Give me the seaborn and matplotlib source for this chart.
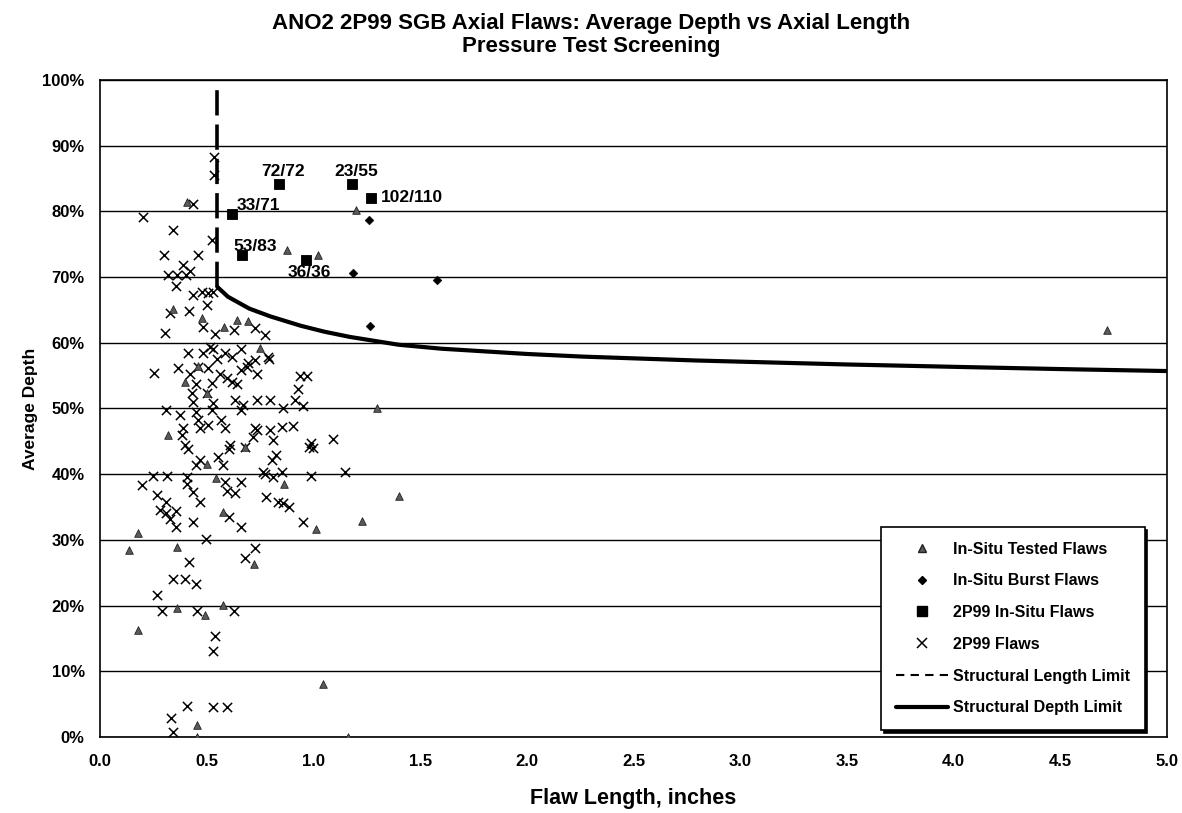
import numpy as np
import matplotlib
matplotlib.use("Agg")
import matplotlib.pyplot as plt
import seaborn as sns
from matplotlib.lines import Line2D

# ---------------- data ----------------
flaws_x = [0.534, 0.535, 0.437, 0.20, 0.343, 0.523, 0.30, 0.46, 0.39, 0.42, 0.32, 0.36, 0.405,
           0.355, 0.437, 0.48, 0.505, 0.53, 0.50, 0.415, 0.33,
           0.304, 0.484, 0.54, 0.63, 0.726, 0.773, 0.414, 0.484, 0.515, 0.546, 0.585, 0.617,
           0.663, 0.695, 0.726, 0.793, 0.253, 0.367, 0.421, 0.46, 0.507, 0.562, 0.593, 0.617,
           0.64, 0.663, 0.687, 0.734, 0.452, 0.523, 0.43, 0.437, 0.50, 0.531, 0.632, 0.671,
           0.734, 0.796, 0.913, 0.929, 0.97, 0.952, 0.309, 0.375, 0.452, 0.527, 0.569, 0.585,
           0.39, 0.382, 0.46, 0.468, 0.507, 0.663, 0.734, 0.718, 0.796, 0.851, 0.905, 0.812,
           0.98, 0.398, 0.414, 0.609, 0.606, 0.68, 0.468, 0.452, 0.554, 0.577, 0.804, 0.827,
           0.765, 0.773, 0.851, 0.812, 0.247, 0.316, 0.41, 0.195, 0.406, 0.437, 0.585, 0.663,
           0.593, 0.632, 0.268, 0.309, 0.468, 0.78, 0.835, 0.859, 0.887, 0.281, 0.309, 0.356,
           0.328, 0.356, 0.437, 0.606, 0.663, 0.952, 0.497, 0.726, 0.68, 0.418,
           0.343, 0.398, 0.452, 0.265, 0.289, 0.456, 0.627, 0.54, 0.528, 0.406, 0.528, 0.593,
           0.335, 0.34, 0.859, 0.726, 0.99, 0.999, 1.09, 1.15, 0.99, 0.789, 0.937, 0.53]
flaws_y = [88.3, 85.6, 81.2, 79.2, 77.2, 75.6, 73.4, 73.3, 71.9, 71.0, 70.3, 70.3, 70.3,
           68.6, 67.2, 67.7, 67.6, 67.8, 65.8, 64.8, 64.5,
           61.5, 62.4, 61.4, 61.9, 62.2, 61.2, 58.4, 58.4, 59.4, 57.6, 58.4, 57.8,
           59.1, 56.9, 57.4, 57.5, 55.4, 56.1, 55.3, 56.3, 56.1, 55.3, 54.6, 54.1,
           53.8, 55.8, 56.3, 55.3, 53.8, 53.9, 52.3, 51.0, 52.3, 50.8, 51.3, 50.5,
           51.3, 51.3, 51.3, 52.9, 55.0, 50.4, 49.8, 49.0, 49.5, 49.7, 48.2, 47.0,
           47.0, 46.0, 48.2, 47.0, 47.5, 49.7, 46.7, 45.7, 46.7, 47.2, 47.3, 45.2,
           44.2, 44.4, 43.9, 44.4, 43.9, 44.2, 42.1, 41.4, 42.6, 41.4, 42.1, 42.9,
           40.4, 40.1, 40.4, 39.6, 39.8, 39.8, 39.6, 38.3, 38.5, 37.3, 38.8, 38.8,
           37.4, 37.2, 36.8, 35.8, 35.8, 36.5, 35.8, 35.6, 35.0, 34.5, 34.1, 34.4,
           33.2, 32.0, 32.7, 33.5, 31.9, 32.7, 30.2, 28.7, 27.2, 26.6,
           24.1, 24.1, 23.3, 21.6, 19.2, 19.2, 19.2, 15.4, 13.1, 4.7, 4.6, 4.6,
           2.9, 0.7, 50.0, 47.0, 44.7, 44.0, 45.3, 40.3, 39.8, 57.8, 55.0, 59.1]

tested_x = [0.41, 1.20, 0.875, 1.02, 0.34, 0.64, 0.695, 0.58, 0.48, 0.75, 0.40, 0.50, 0.32,
            0.50, 0.545, 0.86, 0.575, 0.18, 0.135, 0.36, 0.72, 1.30, 0.68, 1.40, 1.23, 1.01,
            0.575, 0.49, 0.18, 0.36, 0.455, 0.455, 1.045, 1.16, 4.72, 0.46]
tested_y = [81.5, 80.2, 74.1, 73.3, 65.2, 63.5, 63.3, 62.4, 63.7, 59.2, 54.1, 52.4, 45.9,
            41.5, 39.4, 38.5, 34.2, 31.0, 28.5, 28.9, 26.4, 50.0, 44.1, 36.7, 32.9, 31.6,
            20.1, 18.5, 16.3, 19.7, 1.9, 0.0, 8.0, 0.0, 62.0, 56.5]

burst_x = [1.26, 1.185, 1.58, 1.265]
burst_y = [78.7, 70.6, 69.6, 62.6]

insitu_x = [0.62, 0.84, 1.18, 1.27, 0.665, 0.965]
insitu_y = [79.6, 84.1, 84.1, 82.1, 73.3, 72.6]
insitu_labels = ["33/71", "72/72", "23/55", "102/110", "53/83", "36/36"]

depth_limit_x = [0.55, 0.60, 0.70, 0.80, 0.94, 1.05, 1.17, 1.40, 1.60, 2.00, 2.26, 2.80,
                 3.50, 4.06, 4.50, 5.00]
depth_limit_y = [68.5, 67.0, 65.2, 64.0, 62.6, 61.7, 60.9, 59.7, 59.1, 58.3, 57.9, 57.3,
                 56.7, 56.3, 56.0, 55.7]

length_limit_x = [0.55, 0.55]
length_limit_y = [68.5, 99.5]

x_ticks = [0.0, 0.5, 1.0, 1.5, 2.0, 2.5, 3.0, 3.5, 4.0, 4.5, 5.0]
y_ticks = [0, 10, 20, 30, 40, 50, 60, 70, 80, 90, 100]

legend_labels = ["In-Situ Tested Flaws", "In-Situ Burst Flaws", "2P99 In-Situ Flaws",
                 "2P99 Flaws", "Structural Length Limit", "Structural Depth Limit"]

title_text = "ANO2 2P99 SGB Axial Flaws: Average Depth vs Axial Length\nPressure Test Screening"

# ---------------- style ----------------
sns.set_theme(style="white")
plt.rcParams['font.family'] = ['Liberation Sans', 'DejaVu Sans']
plt.rcParams['font.weight'] = 'bold'
plt.rcParams['axes.labelweight'] = 'bold'
plt.rcParams['text.color'] = 'black'
plt.rcParams['axes.labelcolor'] = 'black'

fig = plt.figure(figsize=(11.82, 8.13), dpi=100)
ax = fig.add_axes([0.0846, 0.0935, 0.9027, 0.8081])

# structural limits
sns.lineplot(x=depth_limit_x, y=depth_limit_y, ax=ax, color="black", linewidth=3.0,
             estimator=None, sort=False, zorder=4)
sns.lineplot(x=length_limit_x, y=length_limit_y, ax=ax, color="black", linewidth=2.6,
             estimator=None, sort=False, zorder=4, dashes=False)
ax.lines[-1].set_linestyle((0, (7, 2.5)))

# scatter series
sns.scatterplot(x=flaws_x, y=flaws_y, ax=ax, marker="x", s=44, color="black",
                linewidth=1.1, zorder=5)
sns.scatterplot(x=tested_x, y=tested_y, ax=ax, marker="^", s=30, color="#5a5a5a",
                edgecolor="#222222", linewidth=0.6, zorder=6)
sns.scatterplot(x=burst_x, y=burst_y, ax=ax, marker="D", s=20, color="black",
                edgecolor="black", zorder=6)
sns.scatterplot(x=insitu_x, y=insitu_y, ax=ax, marker="s", s=60, color="black",
                edgecolor="black", zorder=7)

# labels for 2P99 in-situ flaws
label_offsets = [(4, 9, "left"), (4, 13, "center"), (4, 13, "center"),
                 (10, 0, "left"), (13, 9, "center"), (3, -12, "center")]
for lx, ly, lab, (dx, dy, ha) in zip(insitu_x, insitu_y, insitu_labels, label_offsets):
    ax.annotate(lab, (lx, ly), xytext=(dx, dy), textcoords="offset pixels",
                ha=ha, va="center", fontsize=12.5, fontweight="bold", color="black",
                zorder=8)

# axes formatting
ax.set_xlim(0, 5.0)
ax.set_ylim(0, 100)
ax.set_xticks(x_ticks)
ax.set_xticklabels([f"{v:.1f}" for v in x_ticks])
ax.set_yticks(y_ticks)
ax.set_yticklabels([f"{v}%" for v in y_ticks])
ax.tick_params(axis="both", direction="out", length=5, width=1, colors="black",
               labelsize=12)
ax.tick_params(axis="y", pad=6)
ax.tick_params(axis="x", pad=7)
ax.yaxis.grid(True, color="black", linewidth=1.0)
ax.xaxis.grid(False)
ax.set_axisbelow(True)
for sp in ax.spines.values():
    sp.set_visible(True)
    sp.set_color("black")
    sp.set_linewidth(1.2)

ax.set_xlabel("Flaw Length, inches", fontsize=15.5, fontweight="bold", labelpad=14,
              color="black")
ax.set_ylabel("Average Depth", fontsize=12.5, fontweight="bold", labelpad=3,
              color="black")

fig.suptitle(title_text, x=0.5, y=1 - 13 / 813, fontsize=16, fontweight="bold",
             linespacing=1.1, va="top", color="black")

# legend
handles = [
    Line2D([], [], marker="^", linestyle="", color="#5a5a5a", markeredgecolor="#222222",
           markersize=6),
    Line2D([], [], marker="D", linestyle="", color="black", markersize=4.5),
    Line2D([], [], marker="s", linestyle="", color="black", markersize=7),
    Line2D([], [], marker="x", linestyle="", color="black", markersize=7, markeredgewidth=1.1),
    Line2D([], [], linestyle=(0, (4, 3)), color="black", linewidth=1.5),
    Line2D([], [], linestyle="-", color="black", linewidth=3.0),
]
leg = ax.legend(handles, legend_labels, loc="lower right", bbox_to_anchor=(0.979, 0.011),
                frameon=True, fancybox=False, edgecolor="black", framealpha=1,
                shadow={"color": "black", "alpha": 1},
                prop={"weight": "bold", "size": 11.5}, labelspacing=1.05,
                handlelength=3.3, borderpad=0.9, handletextpad=0.3, borderaxespad=0)
for t in leg.get_texts():
    t.set_color("black")
leg.get_frame().set_linewidth(1.2)
leg.set_zorder(10)

fig.savefig("out.png", dpi=100)
